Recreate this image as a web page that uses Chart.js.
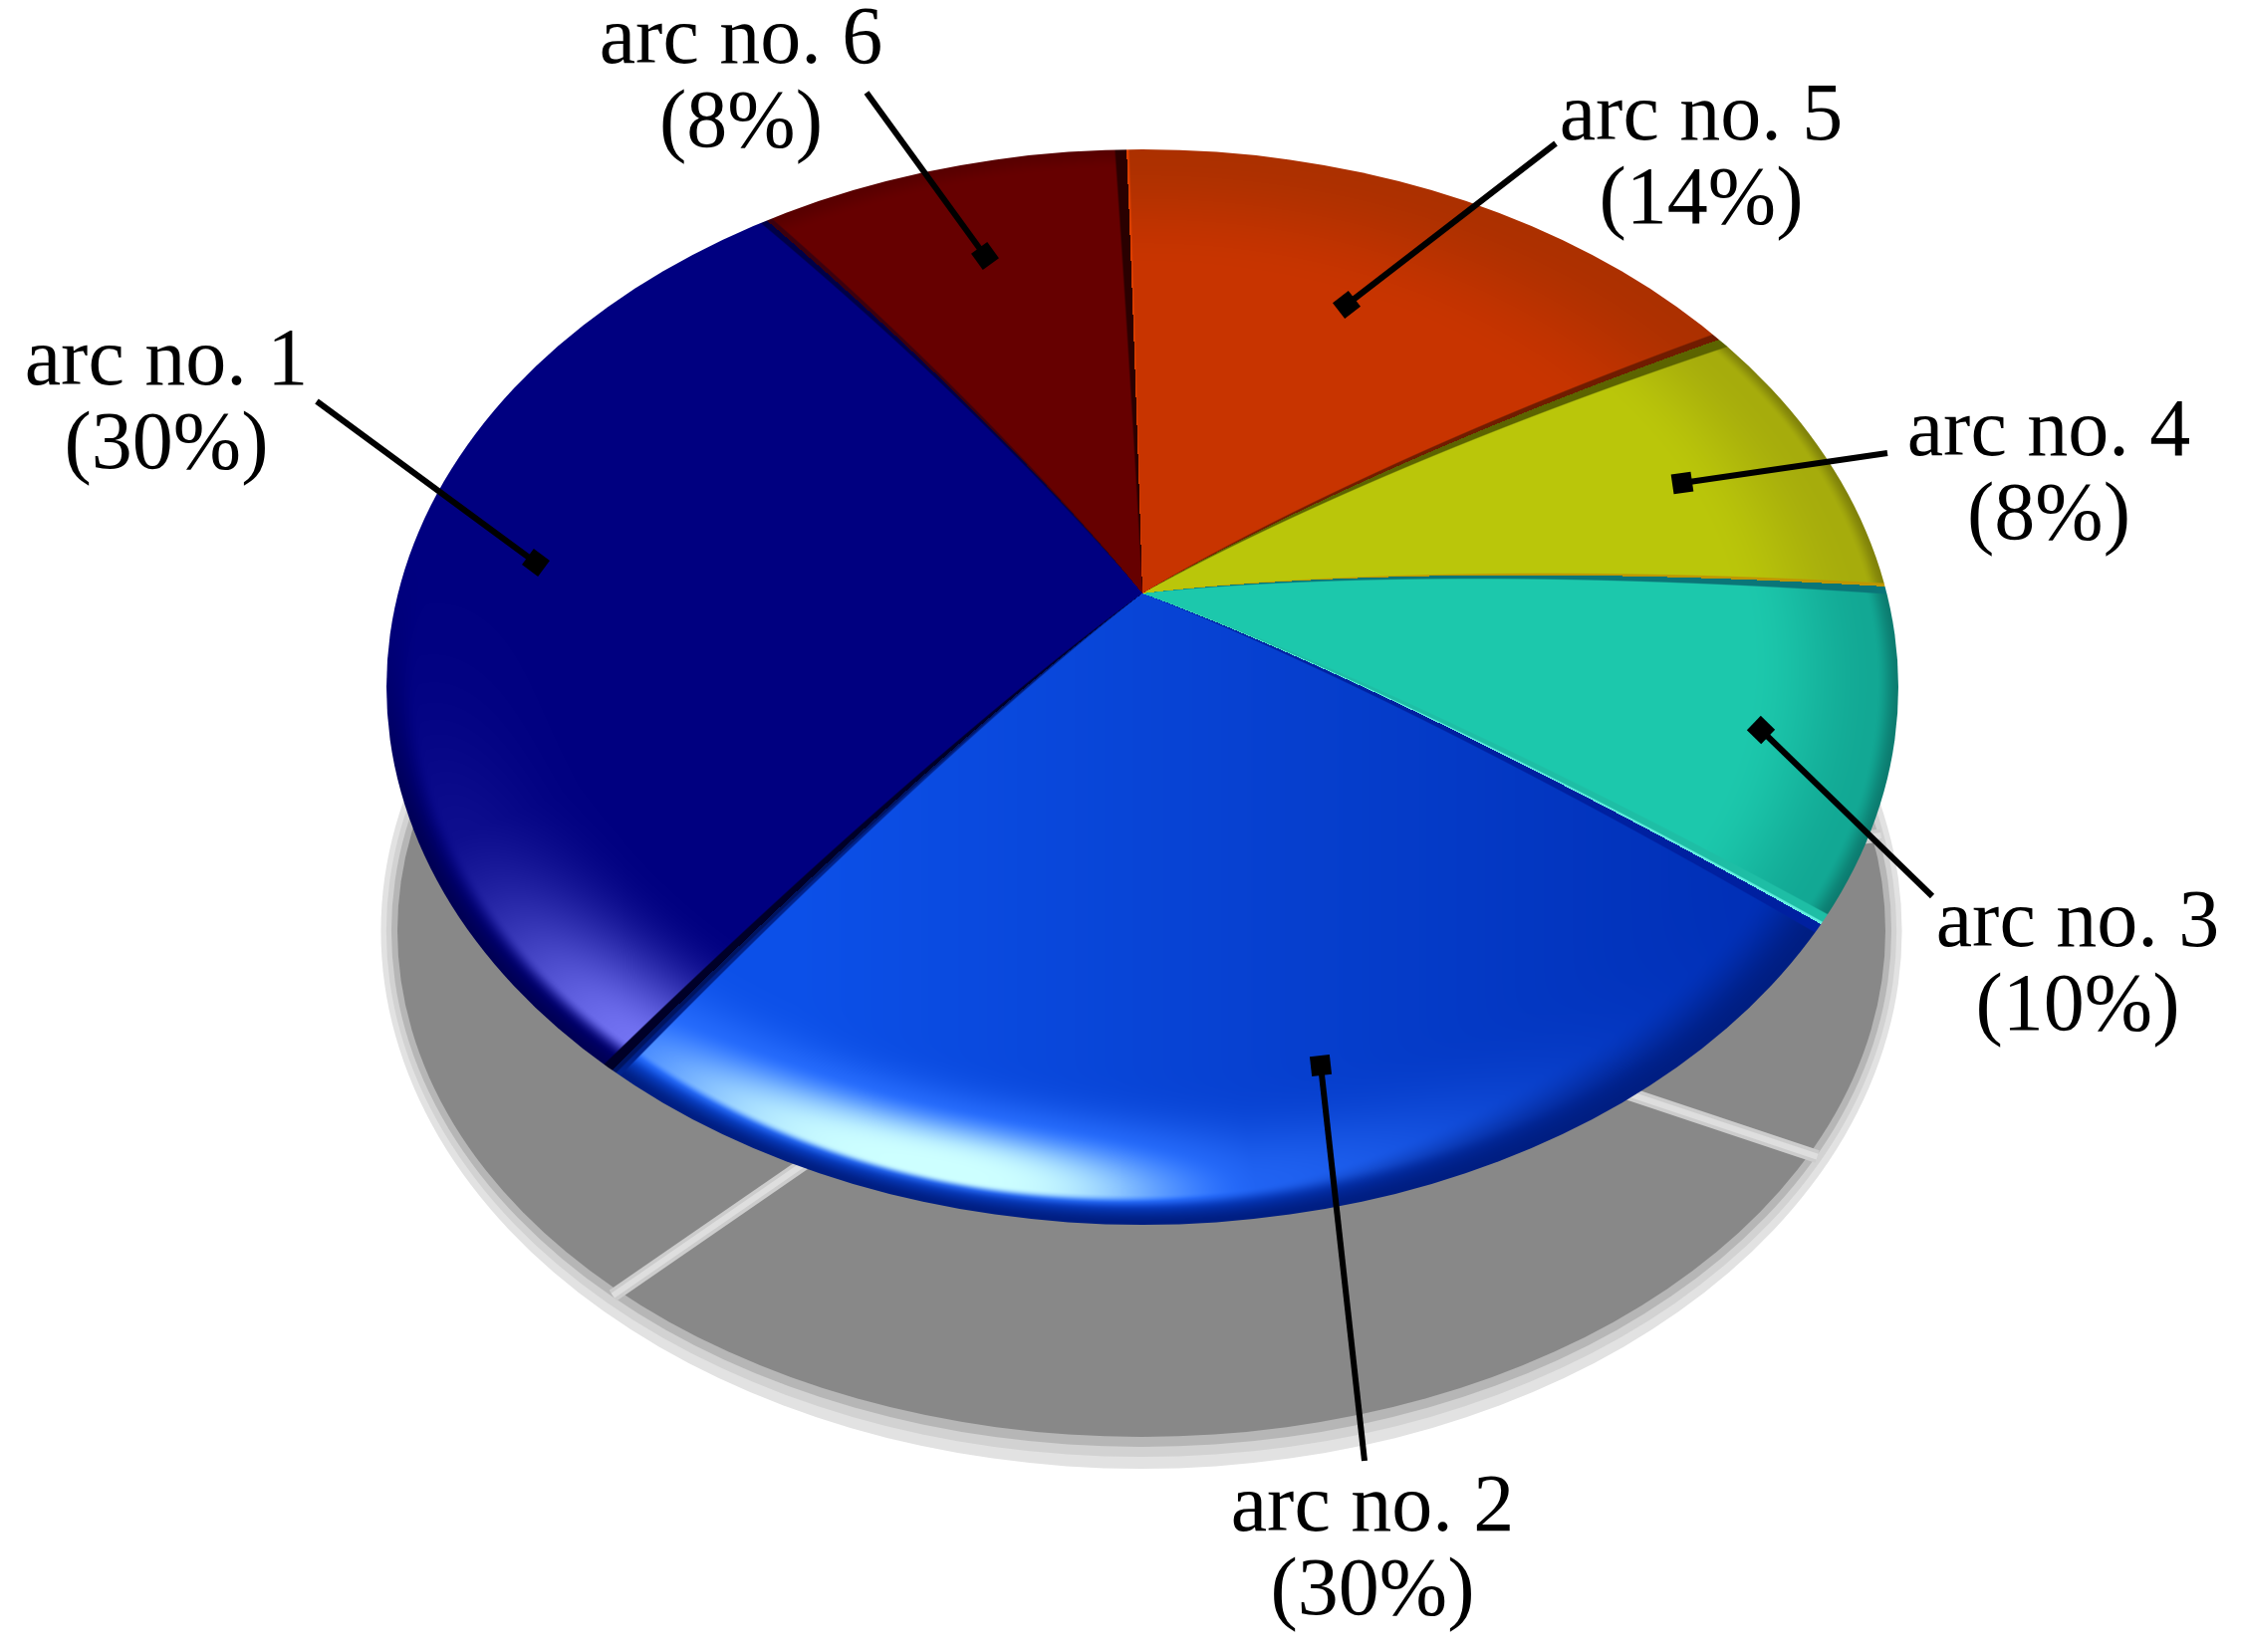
<!DOCTYPE html>
<html><head><meta charset="utf-8">
<style>html,body{margin:0;padding:0;background:#fff}canvas{display:block}</style>
<script src="https://cdn.jsdelivr.net/npm/chart.js@4/dist/chart.umd.js"></script>
</head><body>
<canvas id="c" width="2251" height="1659"></canvas>
<script>
// ---- data ----
const categories = ["arc no. 1","arc no. 2","arc no. 3","arc no. 4","arc no. 5","arc no. 6"];
const shares = [30,30,10,8,14,8];

// ---- callout layout (anchor in the slice, leader end, text centre, first baseline) ----
const markerX = [538,1326,1768,1689,1352,989];
const markerY = [565,1070,733,485,306,257];
const leaderX = [318,1370,1940,1895,1562,870];
const leaderY = [403,1467,900,455,144,93];
const textX   = [167,1378,2086,2057,1708,744];
const textY   = [386,1537,950,457,140,63];

// ---- geometry style ----
const ASPECT = 759/540, DOME = 94, DOME_P = 1.55, WARP = 1.5*Math.PI/180;
const SHADOW = {dy:245, dx:-1, rings:[[1.414,1.0,'#e2e2e2'],[1.404,0.978,'#d2d2d2'],[1.3945,0.9593,'#b6b6b6'],[1.3833,0.9407,'#888888']]};
const S = (a,b,x)=>{const k=Math.min(1,Math.max(0,(x-a)/(b-a)));return k*k*(3-2*k);};
const mix=(p,q,k)=>[p[0]+(q[0]-p[0])*k,p[1]+(q[1]-p[1])*k,p[2]+(q[2]-p[2])*k];
const W=650;
// bevels: [width px at rim, colour], widest first
const bevelStart=[
  [[6,[0,0,70]]],
  [[10,[0,34,140]],[5,[0,20,96]]],
  [[13,[30,190,165]],[3,[100,240,225]]],
  [[4,[190,150,0]]],
  [[8,[112,28,0]]],
  [[10,[42,0,0]]]];
const bevelEnd=[
  [[10,[0,0,40]]],
  [[11,[0,32,160]]],
  [[9,[10,118,120]]],
  [[11,[92,100,0]]],
  [[2,[224,64,0]]],
  [[5,[60,0,14]]]];
function shade(i,t,psi,x){
  let c;
  const p=Math.pow(S(.74,.95,t),1.5)*(1-S(.955,.985,t));
  switch(i){
    case 0:{
      c=[0,0,128];
      const A=Math.max(Math.exp(-Math.pow((psi-133)/20,2)),.14*Math.exp(-Math.pow((psi-155)/18,2)));
      c=mix(c,[116,116,244],A*p);
      c=mix(c,[0,0,84],S(.96,1,t)*(1-S(160,195,psi)));
      return c;}
    case 1:{
      const g=Math.min(1,Math.max(0,(x-800)/1000));
      c=mix([12,80,232],[0,46,180],g);
      const d=psi-106;
      const A=Math.max(Math.exp(-d*d/(d>0?38*38:26*26)),.42*Math.exp(-Math.pow((psi-90)/36,2)));
      const q=A*p;
      const lo=mix(c,[42,112,255],S(0,.6,q));
      c=mix(lo,[205,255,255],S(.42,1,q));
      c=mix(c,[0,30,130],S(.96-.05*S(90,50,psi),.998,t));
      return c;}
    case 2:
      c=mix([28,200,172],[18,168,148],S(.8,.97,t));
      return mix(c,[12,124,112],S(.97,1,t));
    case 3:
      c=mix([186,198,10],[166,172,12],S(.78,.97,t));
      return mix(c,[128,130,10],S(.975,1,t));
    case 4:
      return mix([200,52,0],[172,48,0],S(.7,1,t));
    default:
      return mix([102,0,0],[88,0,0],S(.95,1,t));
  }
}
function paintBody(chart){
  const arcs=chart.getDatasetMeta(0).data;
  const e=arcs[0],cx=e.x,cy=e.y,b=e.outerRadius,a=b*ASPECT;
  const x0=Math.floor(cx-a-2),y0=Math.floor(cy-b-2),w=Math.ceil(2*a+4),h=Math.ceil(2*b+4);
  const off=document.createElement('canvas');off.width=w;off.height=h;
  const oc=off.getContext('2d'),img=oc.createImageData(w,h),px=img.data;
  const start=arcs.map(s=>s.startAngle),end=arcs.map(s=>s.endAngle),base=start[0];
  for(let j=0;j<h;j++)for(let n=0;n<w;n++){
    const x=x0+n+.5,y=y0+j+.5,u=(x-cx)/a;
    let t=.5,v=0;
    for(let q=0;q<7;q++){
      const hh=DOME*(1-Math.pow(Math.min(t,1),DOME_P));
      v=(y-cy+hh)/b;t=Math.hypot(u,v);
    }
    if(t>1.02)continue;
    let psi=Math.atan2(v,u);
    let phi=Math.PI-(psi-WARP*Math.sin(psi));
    while(phi<base)phi+=2*Math.PI;
    while(phi>=base+2*Math.PI)phi-=2*Math.PI;
    let i=0;for(let m=0;m<arcs.length;m++)if(phi>=start[m]&&phi<end[m]){i=m;break;}
    let deg=psi*180/Math.PI;if(deg<0)deg+=360;
    let c=shade(i,Math.min(t,1),deg,x);
    const dS=phi-start[i],dE=end[i]-phi,aa=1/(W*Math.max(t,.05));
    for(const [bw,col] of bevelStart[i]){const k=1-S(bw/W-aa,bw/W+aa,dS);if(k>0)c=mix(c,col,k);}
    for(const [bw,col] of bevelEnd[i]){const k=1-S(bw/W-aa,bw/W+aa,dE);if(k>0)c=mix(c,col,k);}
    const o=(j*w+n)*4;px[o]=c[0];px[o+1]=c[1];px[o+2]=c[2];px[o+3]=255;
  }
  oc.putImageData(img,0,0);
  return {off,x0,y0,cx,cy,a,b};
}
const cone3d={
  id:'cone3d',
  beforeDatasetDraw(chart){
    const ctx=chart.ctx,arcs=chart.getDatasetMeta(0).data;
    const e=arcs[0],cx=e.x,cy=e.y,R=e.outerRadius;
    // ground shadow
    const sx=cx+SHADOW.dx,sy=cy+SHADOW.dy;
    ctx.save();
    SHADOW.rings.forEach(([ra,rb,col])=>{
      ctx.beginPath();ctx.ellipse(sx,sy,R*ra,R*rb,0,0,2*Math.PI);ctx.fillStyle=col;ctx.fill();
    });
    const g=SHADOW.rings[3];
    arcs.forEach(s=>{
      const d=Math.PI-s.startAngle,psi=d+WARP*Math.sin(d);
      const ex=sx+R*g[0]*1.012*Math.cos(psi),ey=sy+R*g[1]*1.012*Math.sin(psi);
      ctx.beginPath();ctx.moveTo(sx,sy);ctx.lineTo(ex,ey);
      ctx.strokeStyle='#cccccc';ctx.lineWidth=13;ctx.stroke();
      ctx.strokeStyle='#dedede';ctx.lineWidth=6;ctx.stroke();
    });
    ctx.restore();
    // shaded body, from the library's arc angles
    const p=paintBody(chart);
    ctx.save();
    ctx.beginPath();ctx.ellipse(p.cx,p.cy,p.a,p.b,0,0,2*Math.PI);ctx.clip();
    ctx.drawImage(p.off,p.x0,p.y0);
    ctx.restore();
    return false;
  },
  afterDraw(chart){
    const ctx=chart.ctx;
    ctx.save();
    categories.forEach((name,i)=>{
      const mx=markerX[i],my=markerY[i],lx=leaderX[i],ly=leaderY[i];
      ctx.strokeStyle='#000';ctx.lineWidth=6;ctx.lineCap='butt';
      ctx.beginPath();ctx.moveTo(mx,my);ctx.lineTo(lx,ly);ctx.stroke();
      ctx.save();ctx.translate(mx,my);ctx.rotate(Math.atan2(ly-my,lx-mx));
      ctx.fillStyle='#000';ctx.fillRect(-10,-10,20,20);ctx.restore();
      ctx.fillStyle='#000';ctx.font='82px "Liberation Serif"';ctx.textAlign='center';ctx.textBaseline='alphabetic';
      ctx.fillText(name,textX[i],textY[i]);
      ctx.fillText('('+shares[i]+'%)',textX[i],textY[i]+84);
    });
    ctx.restore();
  }
};
new Chart(document.getElementById('c'),{
  type:'pie',
  data:{labels:categories,datasets:[{data:shares,borderWidth:0,backgroundColor:['#000080','#0b4bdc','#1cc8ac','#bcc80a','#c83400','#660000']}]},
  plugins:[cone3d],
  options:{
    responsive:false,animation:false,rotation:28.5,
    layout:{padding:{left:607,right:564,top:150,bottom:429}},
    plugins:{legend:{display:false},tooltip:{enabled:false}}
  }
});
</script>
</body></html>
